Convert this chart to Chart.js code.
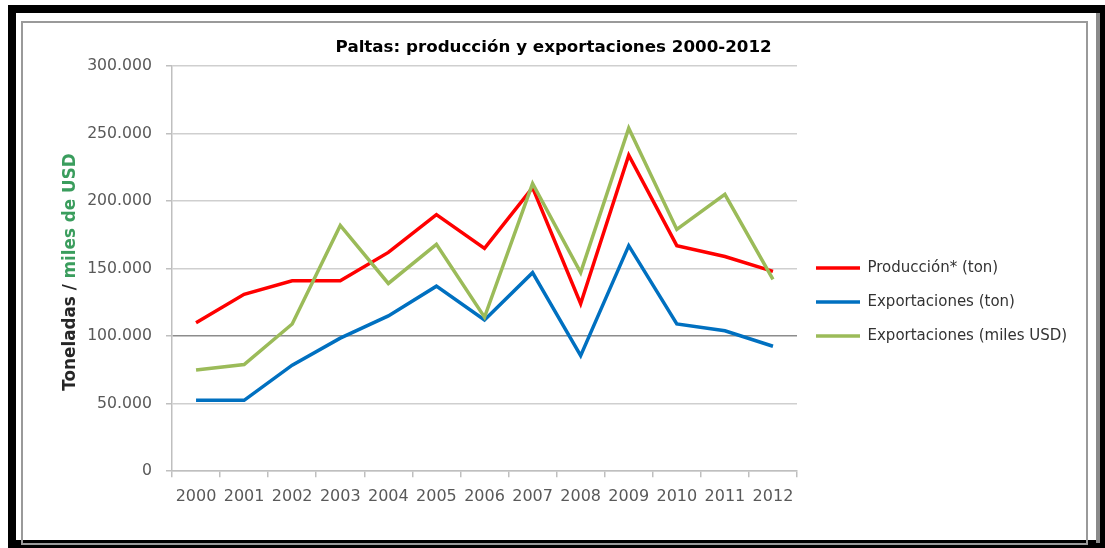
<!DOCTYPE html>
<html>
<head>
<meta charset="utf-8">
<script src="https://cdn.jsdelivr.net/npm/chart.js@4/dist/chart.umd.min.js"></script>
<style>
  html, body { margin: 0; padding: 0; background: #fff; overflow: hidden; }
  body { width: 1105px; height: 548px; position: relative; }
  .marco-negro { position: absolute; left: 8px; top: 5px; width: 1084px; height: 527px; border: 8px solid #000; }
  .marco-gris { position: absolute; left: 21px; top: 21px; width: 1063px; height: 520px; border: 2px solid #9a9a9a; }
  .sombra { position: absolute; left: 1096px; top: 13px; width: 4px; height: 530px; background: #8a8a8a; }
  #grafico { position: absolute; left: 0; top: 0; z-index: 2; }
</style>
</head>
<body>
<div class="marco-negro"></div>
<div class="marco-gris"></div>
<div class="sombra"></div>
<canvas id="grafico" width="1105" height="548"></canvas>
<script>
// Datos
const anios = ["2000", "2001", "2002", "2003", "2004", "2005", "2006", "2007", "2008", "2009", "2010", "2011", "2012"];
const produccion = [110000, 131000, 141000, 141000, 162000, 190000, 165000, 210000, 124000, 234000, 167000, 159000, 148000];
const exportacionesTon = [52500, 52500, 78500, 98500, 115000, 137000, 112000, 147000, 85500, 167000, 109000, 104000, 92500];
const exportacionesUsd = [75000, 79000, 109000, 182000, 139000, 168000, 114000, 213000, 147000, 254000, 179000, 205000, 142000];
const etiquetasY = ["0", "50.000", "100.000", "150.000", "200.000", "250.000", "300.000"];
const nombresSeries = ["Producción* (ton)", "Exportaciones (ton)", "Exportaciones (miles USD)"];
const titulo = "Paltas: producción y exportaciones 2000-2012";
const tituloY1 = "Toneladas / ";
const tituloY2 = "miles de USD";

const fuente = "'DejaVu Sans', sans-serif";
const tamLeyenda = 15;
const padLeyenda = 19;
const anchoLinea = 44;

// Medir el texto más largo de la leyenda para dejar el área del gráfico en x=797
const medidor = document.createElement("canvas").getContext("2d");
medidor.font = "normal " + tamLeyenda + "px " + fuente;
const textoMax = Math.max(...nombresSeries.map(t => medidor.measureText(t).width));
const anchoLeyenda = padLeyenda + anchoLinea + tamLeyenda / 2 + textoMax + 10;
const padDerecha = Math.max(0, 1105 - 797 - anchoLeyenda);

// Título del eje Y en dos colores
const tituloEjeY = {
  id: "tituloEjeY",
  afterDraw(chart) {
    const ctx = chart.ctx;
    ctx.save();
    ctx.font = "bold 16.8px " + fuente;
    const w1 = ctx.measureText(tituloY1).width;
    const w2 = ctx.measureText(tituloY2).width;
    ctx.translate(75, 272);
    ctx.rotate(-Math.PI / 2);
    ctx.textBaseline = "alphabetic";
    ctx.textAlign = "left";
    const x0 = -(w1 + w2) / 2;
    ctx.fillStyle = "#262626";
    ctx.fillText(tituloY1, x0, 0);
    ctx.fillStyle = "#3a9d5d";
    ctx.fillText(tituloY2, x0 + w1, 0);
    ctx.restore();
  }
};

const ctx = document.getElementById("grafico").getContext("2d");
new Chart(ctx, {
  type: "line",
  data: {
    labels: anios,
    datasets: [
      {
        label: nombresSeries[0],
        data: produccion,
        borderColor: "#ff0000",
        backgroundColor: "#ff0000",
        borderWidth: 3.5,
        pointRadius: 0,
        tension: 0,
        order: 3,
      },
      {
        label: nombresSeries[1],
        data: exportacionesTon,
        borderColor: "#0070c0",
        backgroundColor: "#0070c0",
        borderWidth: 3.5,
        pointRadius: 0,
        tension: 0,
        order: 2,
      },
      {
        label: nombresSeries[2],
        data: exportacionesUsd,
        borderColor: "#9bbb59",
        backgroundColor: "#9bbb59",
        borderWidth: 3.5,
        pointRadius: 0,
        tension: 0,
        order: 1,
      },
    ],
  },
  options: {
    responsive: false,
    animation: false,
    layout: {
      padding: { left: 30, top: 20, bottom: 30.8, right: padDerecha },
    },
    plugins: {
      tooltip: { enabled: false },
      title: {
        display: true,
        text: titulo,
        color: "#000",
        font: { family: fuente, size: 16.7, weight: "bold" },
        padding: { top: 18, bottom: 8 },
      },
      legend: {
        position: "right",
        align: "center",
        maxWidth: 340,
        title: {
          display: true,
          text: " ",
          font: { size: 12 },
          padding: { top: 0, bottom: 52.4 },
        },
        labels: {
          boxWidth: anchoLinea,
          boxHeight: 3.5,
          padding: padLeyenda,
          color: "#333",
          font: { family: fuente, size: tamLeyenda },
          sort: (a, b) => a.datasetIndex - b.datasetIndex,
          generateLabels: (chart) =>
            Chart.defaults.plugins.legend.labels.generateLabels(chart).map((item) => ({
              ...item,
              lineWidth: 0,
            })),
        },
      },
    },
    scales: {
      x: {
        offset: true,
        grid: {
          offset: true,
          drawOnChartArea: false,
          tickLength: 6,
          tickColor: "#bfbfbf",
          lineWidth: 1.5,
        },
        border: { color: "#bfbfbf", width: 1.5 },
        ticks: {
          color: "#595959",
          padding: 10.4,
          maxRotation: 0,
          font: { family: fuente, size: 16 },
        },
      },
      y: {
        min: 0,
        max: 300000,
        afterFit: (scale) => { scale.width = 142; },
        grid: {
          tickLength: 6,
          lineWidth: 1.5,
          color: (c) => (c.tick && c.tick.value === 100000 ? "#8c8c8c" : "#cfcfcf"),
          tickColor: "#bfbfbf",
        },
        border: { color: "#bfbfbf", width: 1.5 },
        ticks: {
          stepSize: 50000,
          color: "#595959",
          padding: 14,
          font: { family: fuente, size: 15.7 },
          callback: (value, index) => etiquetasY[index],
        },
      },
    },
  },
  plugins: [tituloEjeY],
});
</script>
</body>
</html>
